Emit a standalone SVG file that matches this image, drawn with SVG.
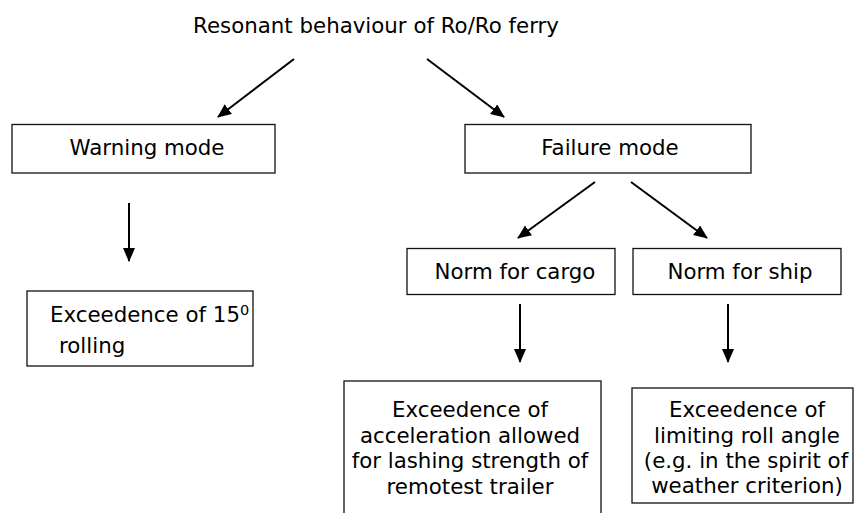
<svg xmlns="http://www.w3.org/2000/svg" width="854" height="513" viewBox="0 0 854 513">
<style>
text{font-family:"DejaVu Sans",Verdana,sans-serif;font-size:21.33px;fill:#000}
.box{fill:#fff;stroke:#111;stroke-width:1.3}
.c{text-anchor:middle}
.arr{stroke:#000;stroke-width:2;fill:none;marker-end:url(#ah)}
</style>
<defs>
<marker id="ah" viewBox="0 0 14 12" refX="13" refY="6" markerWidth="14" markerHeight="12" markerUnits="userSpaceOnUse" orient="auto">
<path d="M0,0 L14,6 L0,12 Z" fill="#000"/>
</marker>
</defs>
<rect width="854" height="513" fill="#fff"/>
<g id="title"><text class="c" x="376" y="33">Resonant behaviour of Ro/Ro ferry</text></g>
<g id="warning"><rect class="box" x="12" y="124.5" width="263" height="48.5"/><text class="c" x="147" y="155">Warning mode</text></g>
<g id="failure"><rect class="box" x="465" y="124.5" width="286" height="48.5"/><text class="c" x="610" y="155">Failure mode</text></g>
<g id="exc15"><rect class="box" x="27" y="291" width="226" height="75"/><text x="50" y="322">Exceedence of 15<tspan dy="-7" font-size="14.5">0</tspan></text><text x="59" y="353">rolling</text></g>
<g id="cargo"><rect class="box" x="407" y="248.5" width="208" height="46"/><text class="c" x="515" y="279">Norm for cargo</text></g>
<g id="ship"><rect class="box" x="633" y="248.5" width="208" height="46"/><text class="c" x="740" y="279">Norm for ship</text></g>
<g id="accel"><rect class="box" x="344" y="381" width="257" height="140"/>
<text class="c" x="470" y="417">Exceedence of</text><text class="c" x="470" y="443">acceleration allowed</text><text class="c" x="470" y="468">for lashing strength of</text><text class="c" x="470" y="494">remotest trailer</text></g>
<g id="roll"><rect class="box" x="632" y="388" width="221" height="115"/>
<text class="c" x="747" y="417">Exceedence of</text><text class="c" x="747" y="443">limiting roll angle</text><text class="c" x="746" y="468">(e.g. in the spirit of</text><text class="c" x="747" y="493">weather criterion)</text></g>
<g id="connectors">
<line class="arr" x1="294" y1="59" x2="218" y2="117"/>
<line class="arr" x1="427" y1="59" x2="504" y2="117"/>
<line class="arr" x1="129" y1="203" x2="129" y2="261"/>
<line class="arr" x1="595" y1="182" x2="518" y2="238"/>
<line class="arr" x1="631" y1="182" x2="707" y2="238"/>
<line class="arr" x1="520" y1="304" x2="520" y2="362"/>
<line class="arr" x1="728" y1="304" x2="728" y2="362"/>
</g>
</svg>
